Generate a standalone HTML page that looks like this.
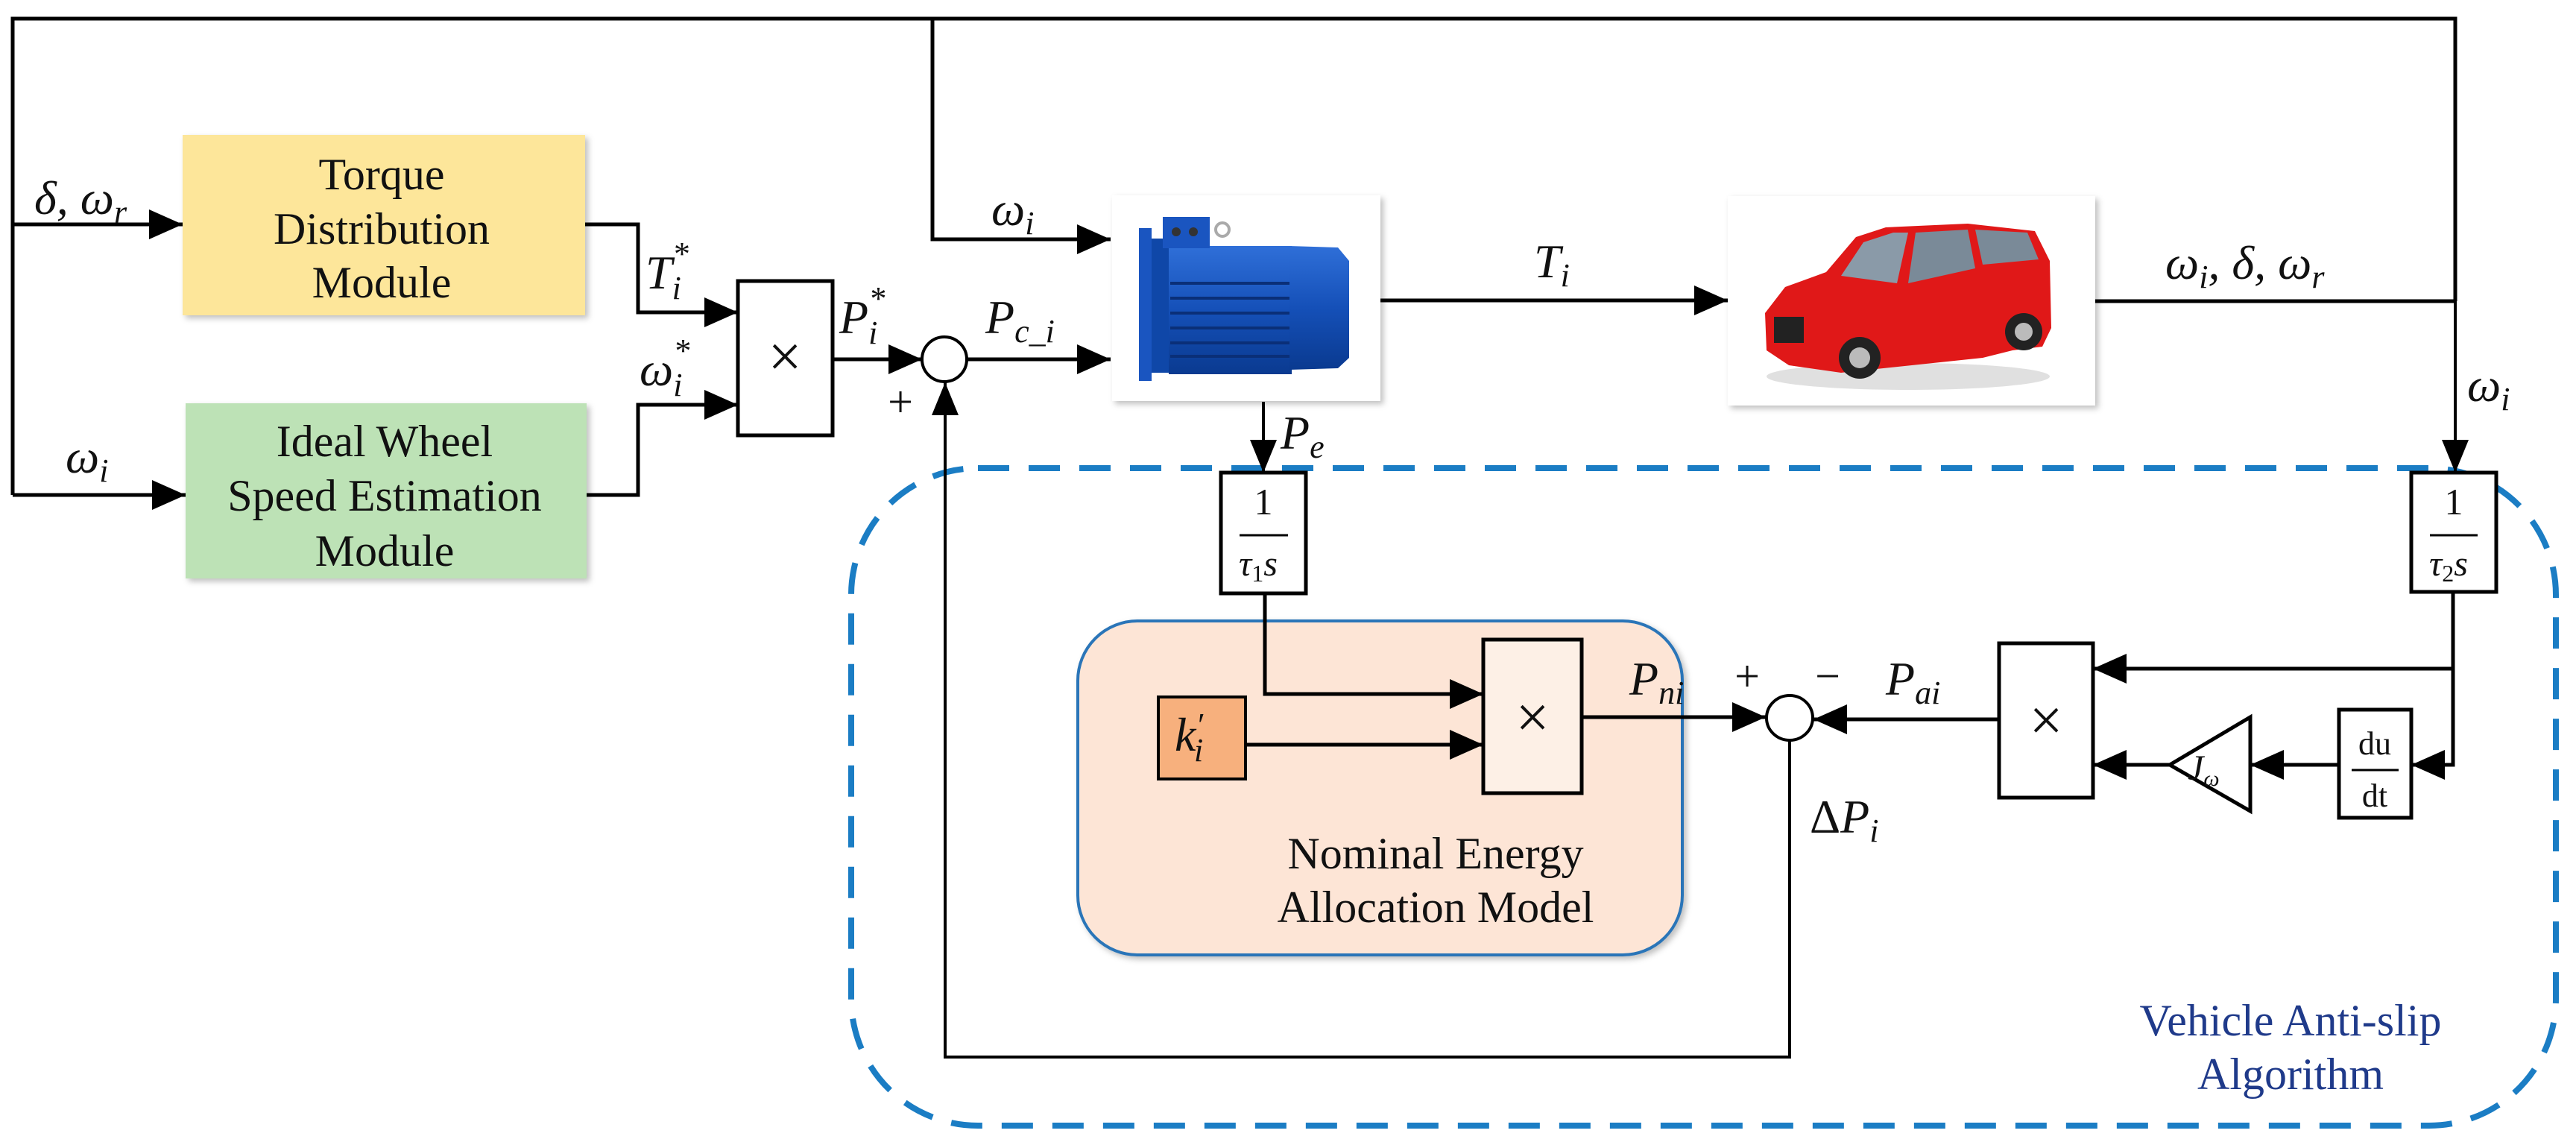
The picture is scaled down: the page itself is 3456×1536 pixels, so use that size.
<!DOCTYPE html>
<html><head><meta charset="utf-8"><style>
html,body{margin:0;padding:0;background:#fff;}
svg{display:block;}
.t{font-family:"Liberation Serif",serif;font-size:60px;fill:#111;}
.m{font-family:"Liberation Serif",serif;font-style:italic;font-size:64px;fill:#111;}
</style></head><body>
<svg width="3456" height="1536" viewBox="0 0 3456 1536" xmlns="http://www.w3.org/2000/svg">
<defs>
<marker id="a" markerWidth="10" markerHeight="10" refX="9" refY="5" orient="auto" markerUnits="strokeWidth"><path d="M0,1 L9,5 L0,9z" fill="#000"/></marker>
<marker id="b" markerWidth="12" markerHeight="12" refX="11" refY="6" orient="auto" markerUnits="strokeWidth"><path d="M0,1.5 L11,6 L0,10.5z" fill="#000"/></marker>
<filter id="sh" x="-5%" y="-5%" width="115%" height="115%"><feDropShadow dx="4" dy="4" stdDeviation="4" flood-color="#000" flood-opacity="0.25"/></filter>
<linearGradient id="mb" x1="0" y1="0" x2="0" y2="1"><stop offset="0" stop-color="#2f6fd8"/><stop offset="0.5" stop-color="#1550b8"/><stop offset="1" stop-color="#0a3a90"/></linearGradient>
</defs>

<rect x="1142" y="628" width="2287" height="882" rx="170" ry="170" fill="none" stroke="#1b7dc4" stroke-width="8" stroke-dasharray="42 26"/>

<rect x="245" y="181" width="540" height="242" fill="#fde69a" filter="url(#sh)"/>
<rect x="249" y="541" width="538" height="235" fill="#bde2b6" filter="url(#sh)"/>
<rect x="1446" y="833" width="811" height="448" rx="80" ry="80" fill="#fde5d6" stroke="#2b74b8" stroke-width="4" filter="url(#sh)"/>
<rect x="1554" y="935" width="117" height="110" fill="#f7b07d" stroke="#000" stroke-width="4"/>

<rect x="1492" y="262" width="360" height="276" fill="#fff" filter="url(#sh)"/>
<g>
<rect x="1528" y="306" width="17" height="205" fill="#1a55c0"/>
<rect x="1545" y="320" width="25" height="180" fill="#0f47a8"/>
<rect x="1568" y="330" width="165" height="172" fill="url(#mb)"/>
<g stroke="#0a2f78" stroke-width="4">
<line x1="1570" y1="380" x2="1730" y2="380"/><line x1="1570" y1="400" x2="1730" y2="400"/>
<line x1="1570" y1="420" x2="1730" y2="420"/><line x1="1570" y1="440" x2="1730" y2="440"/>
<line x1="1570" y1="460" x2="1730" y2="460"/><line x1="1570" y1="478" x2="1730" y2="478"/>
</g>
<path d="M1730,330 L1795,332 L1810,350 L1810,480 L1795,494 L1730,496z" fill="url(#mb)"/>
<rect x="1560" y="291" width="63" height="42" fill="#1a55c0"/>
<circle cx="1578" cy="311" r="6" fill="#333"/><circle cx="1601" cy="311" r="6" fill="#333"/>
<circle cx="1640" cy="308" r="9" fill="none" stroke="#aaa" stroke-width="4"/>
</g>

<rect x="2318" y="263" width="493" height="281" fill="#fff" filter="url(#sh)"/>
<g>
<ellipse cx="2560" cy="505" rx="190" ry="18" fill="#ccc" opacity="0.6"/>
<path d="M2370,470 L2368,420 L2395,385 L2450,365 L2490,318 L2530,305 L2640,300 L2730,310 L2750,350 L2752,440 L2740,465 L2700,470 L2660,480 L2470,500 L2400,490z" fill="#e01818"/>
<path d="M2500,325 L2540,312 L2560,312 L2545,380 L2470,370z" fill="#8a9aa8"/>
<path d="M2570,312 L2640,308 L2650,360 L2560,380z" fill="#7a8a98"/>
<path d="M2650,308 L2720,312 L2735,348 L2660,355z" fill="#7a8a98"/>
<rect x="2380" y="425" width="40" height="35" fill="#222"/>
<circle cx="2495" cy="480" r="28" fill="#222"/><circle cx="2495" cy="480" r="14" fill="#bbb"/>
<circle cx="2715" cy="445" r="25" fill="#222"/><circle cx="2715" cy="445" r="12" fill="#bbb"/>
</g>

<g fill="none" stroke="#000" stroke-width="5">
<polyline points="17,664 17,25 3294,25 3294,404"/>
<polyline points="1251,25 1251,321 1490,321" marker-end="url(#a)"/>
<line x1="17" y1="301" x2="245" y2="301" marker-end="url(#a)"/>
<line x1="17" y1="664" x2="249" y2="664" marker-end="url(#a)"/>
<polyline points="785,301 856,301 856,419 990,419" marker-end="url(#a)"/>
<polyline points="787,664 856,664 856,543 990,543" marker-end="url(#a)"/>
<line x1="1117" y1="482" x2="1237" y2="482" marker-end="url(#a)"/>
<line x1="1297" y1="482" x2="1490" y2="482" marker-end="url(#a)"/>
<line x1="1852" y1="403" x2="2318" y2="403" marker-end="url(#a)"/>
<line x1="2811" y1="404" x2="3294" y2="404"/>
<line x1="2122" y1="962" x2="2369" y2="962" marker-end="url(#a)"/>
<line x1="2682" y1="965" x2="2433" y2="965" marker-end="url(#a)"/>
<polyline points="1697,796 1697,931 1990,931" marker-end="url(#a)"/>
<line x1="1671" y1="999" x2="1990" y2="999" marker-end="url(#a)"/>
<polyline points="3291,794 3291,897 2808,897" marker-end="url(#a)"/>
<polyline points="3291,897 3291,1026 3235,1026" marker-end="url(#a)"/>
<line x1="3138" y1="1026" x2="3019" y2="1026" marker-end="url(#a)"/>
<line x1="2911" y1="1026" x2="2808" y2="1026" marker-end="url(#a)"/>
</g>
<g fill="none" stroke="#000" stroke-width="4">
<polyline points="2401,992 2401,1418 1268,1418 1268,513" marker-end="url(#b)"/>
<line x1="1695" y1="539" x2="1695" y2="634" marker-end="url(#b)"/>
<line x1="3294" y1="404" x2="3294" y2="634" marker-end="url(#b)"/>
</g>

<g fill="#fff" stroke="#000" stroke-width="5">
<rect x="990" y="377" width="127" height="207"/>
<rect x="1638" y="634" width="114" height="162"/>
<rect x="3235" y="634" width="114" height="160"/>
<rect x="3138" y="952" width="97" height="145"/>
<rect x="2682" y="863" width="126" height="207"/>
<polygon points="2911,1026 3019,962 3019,1088"/>
</g>
<rect x="1990" y="858" width="132" height="206" fill="#fdf0e6" stroke="#000" stroke-width="5"/>
<g fill="#fff" stroke="#000" stroke-width="4">
<ellipse cx="1267" cy="482" rx="30" ry="30"/>
<ellipse cx="2401" cy="963" rx="31" ry="30"/>
</g>

<g class="t" text-anchor="middle">
<text x="512" y="254">Torque</text><text x="512" y="327">Distribution</text><text x="512" y="399">Module</text>
<text x="516" y="612">Ideal Wheel</text><text x="516" y="685">Speed Estimation</text><text x="516" y="759">Module</text>
<text x="1926" y="1165">Nominal Energy</text><text x="1926" y="1237">Allocation Model</text>
<text x="3073" y="1389" style="fill:#1f3a8a">Vehicle Anti-slip</text><text x="3073" y="1461" style="fill:#1f3a8a">Algorithm</text>
<text x="1053" y="505" font-size="80">×</text>
<text x="2056" y="989" font-size="80">×</text>
<text x="2745" y="993" font-size="80">×</text>
<text x="1695" y="690" font-size="50">1</text>
<text x="3292" y="690" font-size="50">1</text>
<text x="3186" y="1012" font-size="44">du</text>
<text x="3186" y="1082" font-size="44">dt</text>
<text x="1208" y="559" font-size="60">+</text>
<text x="2344" y="927" font-size="60">+</text>
<text x="2452" y="927" font-size="60">−</text>
</g>
<g stroke="#000" stroke-width="3">
<line x1="1663" y1="718" x2="1728" y2="718"/>
<line x1="3260" y1="718" x2="3324" y2="718"/>
<line x1="3155" y1="1033" x2="3218" y2="1033"/>
</g>
<g class="m">
<text x="1662" y="772" font-size="48">τ<tspan font-size="32" dy="8" font-style="normal">1</tspan><tspan dy="-8">s</tspan></text>
<text x="3259" y="772" font-size="48">τ<tspan font-size="32" dy="8" font-style="normal">2</tspan><tspan dy="-8">s</tspan></text>
<text x="46" y="287">δ, ω<tspan font-size="44" dy="12">r</tspan></text>
<text x="88" y="634">ω<tspan font-size="44" dy="12">i</tspan></text>
<text x="1330" y="302">ω<tspan font-size="44" dy="12">i</tspan></text>
<text x="866" y="387">T<tspan font-size="44" dy="14">i</tspan><tspan font-size="44" dx="-12" dy="-46">*</tspan></text>
<text x="858" y="517">ω<tspan font-size="44" dy="14">i</tspan><tspan font-size="44" dx="-12" dy="-46">*</tspan></text>
<text x="1126" y="447">P<tspan font-size="44" dy="14">i</tspan><tspan font-size="44" dx="-12" dy="-46">*</tspan></text>
<text x="1322" y="447">P<tspan font-size="44" dy="12">c_i</tspan></text>
<text x="2058" y="372">T<tspan font-size="44" dy="12">i</tspan></text>
<text x="2905" y="374">ω<tspan font-size="44" dy="12">i</tspan><tspan dy="-12">, δ, ω</tspan><tspan font-size="44" dy="12">r</tspan></text>
<text x="3310" y="538">ω<tspan font-size="44" dy="12">i</tspan></text>
<text x="1718" y="602">P<tspan font-size="44" dy="12">e</tspan></text>
<text x="1576" y="1007">k<tspan font-size="44" dy="-20">′</tspan><tspan font-size="44" dx="-12" dy="34">i</tspan></text>
<text x="2186" y="932">P<tspan font-size="44" dy="12">ni</tspan></text>
<text x="2530" y="932">P<tspan font-size="44" dy="12">ai</tspan></text>
<text x="2935" y="1046" font-size="48">J<tspan font-size="30" dy="8">ω</tspan></text>
<text x="2428" y="1117"><tspan font-style="normal">Δ</tspan>P<tspan font-size="44" dy="12">i</tspan></text>
</g>
</svg>
</body></html>
